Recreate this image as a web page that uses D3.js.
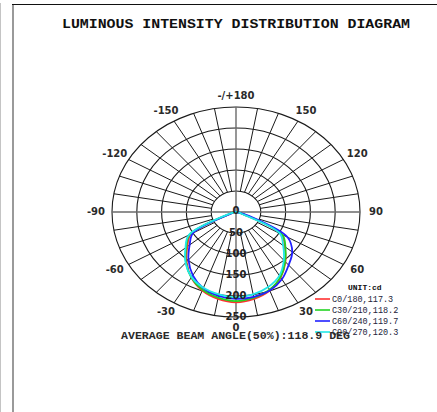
<!DOCTYPE html>
<html>
<head>
<meta charset="utf-8">
<script src="https://cdn.jsdelivr.net/npm/d3@7"></script>
<style>
  html, body { margin: 0; padding: 0; background: #fff; }
  svg { display: block; }
</style>
</head>
<body>
<svg id="chart" width="437" height="412"></svg>
<script>
// ---- data ----
const angles = [-90, -80, -70, -60, -50, -40, -30, -20, -10, 0, 10, 20, 30, 40, 50, 60, 70, 80, 90];
const c0   = [0, 3, 12, 105, 128, 155, 180, 199, 210, 215, 210, 199, 180, 155, 128, 106, 15, 3, 0];
const c30  = [0, 3, 14, 108, 131, 157, 180, 197, 207, 212, 207, 197, 179, 154, 130, 108, 18, 3, 0];
const c60  = [0, 3, 10, 100, 122, 149, 174, 193, 203, 207, 205, 199, 185, 165, 148, 120, 30, 4, 0];
const c90  = [0, 4, 20, 110, 133, 158, 179, 192, 199, 203, 199, 190, 175, 150, 124, 102, 12, 3, 0];
const seriesNames = ["C0/180,117.3", "C30/210,118.2", "C60/240,119.7", "C90/270,120.3"];
const seriesColors = ["#ff3030", "#22d322", "#2020ff", "#20e8e8"];
const seriesValues = [c0, c30, c60, c90];
const ringTicks = [50, 100, 150, 200, 250];
const angleTicks = [0, 30, 60, 90, 120, 150, 180, -150, -120, -90, -60, -30];
const angleLabels = ["0", "30", "60", "90", "120", "150", "-/+180", "-150", "-120", "-90", "-60", "-30"];

const svg = d3.select("#chart");

// frame
svg.append("line").attr("x1", 0.5).attr("x2", 0.5).attr("y1", 3).attr("y2", 412)
  .attr("stroke", "#c4c4c4").attr("stroke-width", 1);
svg.append("line").attr("x1", 13).attr("x2", 13).attr("y1", 4).attr("y2", 412)
  .attr("stroke", "#9a9a9a").attr("stroke-width", 2);
svg.append("line").attr("x1", 12).attr("x2", 437).attr("y1", 4.5).attr("y2", 4.5)
  .attr("stroke", "#111").attr("stroke-width", 1);

// title
svg.append("text")
  .attr("x", 62).attr("y", 28)
  .attr("textLength", 348).attr("lengthAdjust", "spacingAndGlyphs")
  .style("font", "bold 12px 'Liberation Mono', monospace")
  .style("fill", "#111")
  .text("LUMINOUS INTENSITY DISTRIBUTION DIAGRAM");

/* ---------- polar frame (stretched horizontally) ---------- */
const cx = 236, cy = 212, rx = 124, ry = 105;
const kx = d3.scaleLinear().domain([0, 250]).range([0, rx]);
const ky = d3.scaleLinear().domain([0, 250]).range([0, ry]);
const rad = d => d * Math.PI / 180;
const px = (a, v) => cx + Math.sin(rad(a)) * kx(v);
const py = (a, v) => cy + Math.cos(rad(a)) * ky(v);

const grid = svg.append("g");
grid.selectAll("ellipse").data(ringTicks).join("ellipse")
  .attr("cx", cx).attr("cy", cy)
  .attr("rx", d => kx(d)).attr("ry", d => ky(d))
  .attr("fill", "none").attr("stroke", "#1a1a1a").attr("stroke-width", 1.1);

const spokes = d3.range(0, 360, 10).filter(a => a % 90 !== 0);
grid.selectAll("line.spoke").data(spokes).join("line")
  .attr("class", "spoke")
  .attr("x1", a => px(a, 50)).attr("y1", a => py(a, 50))
  .attr("x2", a => px(a, 250)).attr("y2", a => py(a, 250))
  .attr("stroke", "#1a1a1a").attr("stroke-width", 1);

grid.selectAll("line.axis").data([0, 90]).join("line")
  .attr("class", "axis")
  .attr("x1", a => px(a, 250)).attr("y1", a => py(a, 250))
  .attr("x2", a => px(a + 180, 250)).attr("y2", a => py(a + 180, 250))
  .attr("stroke", "#6a6a6a").attr("stroke-width", 1.4);

// angle labels
const la = 140, lb = 116;
svg.selectAll("text.ang").data(angleTicks).join("text")
  .attr("class", "ang")
  .attr("x", a => cx + Math.sin(rad(a)) * la)
  .attr("y", a => cy + Math.cos(rad(a)) * lb + 2.5)
  .attr("text-anchor", "middle")
  .style("font", "bold 10px 'DejaVu Sans', sans-serif")
  .style("fill", "#2a2a2a")
  .text((a, i) => angleLabels[i]);

/* ---------- curves ---------- */
const lineGen = d3.line()
  .x(d => px(d.a, d.v)).y(d => py(d.a, d.v))
  .curve(d3.curveCatmullRom.alpha(0.5));

seriesValues.forEach((vals, i) => {
  const pts = angles.map((a, j) => ({ a, v: vals[j] }));
  svg.append("path").datum(pts)
    .attr("d", lineGen)
    .attr("fill", "none")
    .attr("stroke", seriesColors[i])
    .attr("stroke-width", 1.8);
});

// ring labels (on top of the curves)
svg.append("text").attr("x", cx).attr("y", cy + 2)
  .attr("text-anchor", "middle")
  .style("font", "bold 10px 'DejaVu Sans', sans-serif").style("fill", "#222")
  .text("0");
svg.selectAll("text.ring").data(ringTicks).join("text")
  .attr("class", "ring")
  .attr("x", cx).attr("y", d => cy + ky(d) + 3)
  .attr("text-anchor", "middle")
  .style("font", "bold 10px 'DejaVu Sans', sans-serif").style("fill", "#222")
  .text(d => d);

/* ---------- legend ---------- */
svg.append("text").attr("x", 348).attr("y", 290)
  .style("font", "bold 8px 'Liberation Mono', monospace").style("fill", "#111")
  .text("UNIT:cd");

const leg = svg.selectAll("g.leg").data(seriesNames).join("g")
  .attr("class", "leg")
  .attr("transform", (d, i) => `translate(315,${299 + i * 11})`);
leg.append("line").attr("x1", 0).attr("x2", 15).attr("y1", 0).attr("y2", 0)
  .attr("stroke", (d, i) => seriesColors[i]).attr("stroke-width", 1.6);
leg.append("text").attr("x", 17).attr("y", 3)
  .attr("textLength", d => d.length * 5.1).attr("lengthAdjust", "spacingAndGlyphs")
  .style("font", "9px 'Liberation Mono', monospace").style("fill", "#23233a")
  .text(d => d);

svg.append("text")
  .attr("x", 121).attr("y", 339)
  .attr("textLength", 229).attr("lengthAdjust", "spacingAndGlyphs")
  .style("font", "bold 10px 'Liberation Mono', monospace").style("fill", "#2a2a2a")
  .text("AVERAGE BEAM ANGLE(50%):118.9 DEG");
</script>
</body>
</html>
